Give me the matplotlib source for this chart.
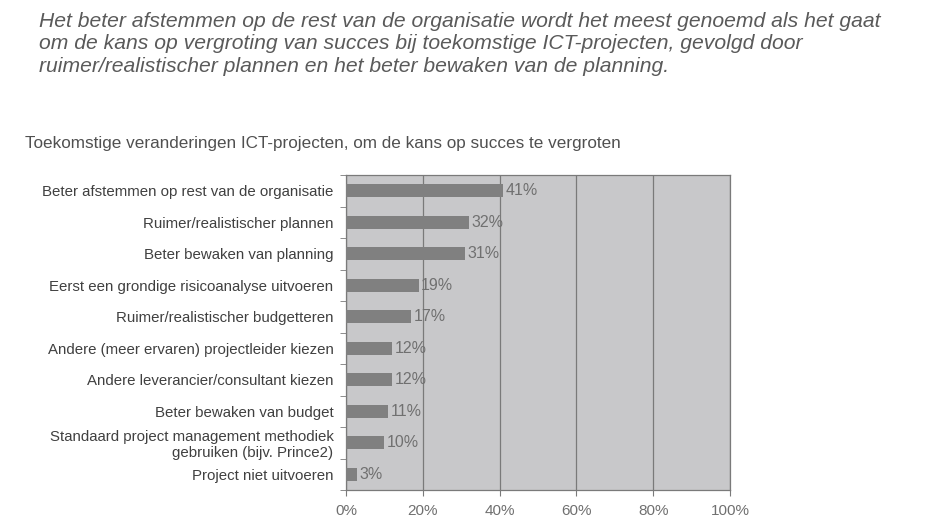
import matplotlib

matplotlib.use("Agg")
import matplotlib.pyplot as plt
import numpy as np

plt.rcParams["font.family"] = ["Liberation Sans", "DejaVu Sans"]

categories = [
    "Beter afstemmen op rest van de organisatie",
    "Ruimer/realistischer plannen",
    "Beter bewaken van planning",
    "Eerst een grondige risicoanalyse uitvoeren",
    "Ruimer/realistischer budgetteren",
    "Andere (meer ervaren) projectleider kiezen",
    "Andere leverancier/consultant kiezen",
    "Beter bewaken van budget",
    "Standaard project management methodiek\ngebruiken (bijv. Prince2)",
    "Project niet uitvoeren",
]
values = [41, 32, 31, 19, 17, 12, 12, 11, 10, 3]
xticks = [0, 20, 40, 60, 80, 100]

HEADLINE = ("Het beter afstemmen op de rest van de organisatie wordt het meest genoemd als het gaat\n"
            "om de kans op vergroting van succes bij toekomstige ICT-projecten, gevolgd door\n"
            "ruimer/realistischer plannen en het beter bewaken van de planning.")
SUBTITLE = "Toekomstige veranderingen ICT-projecten, om de kans op succes te vergroten"

BAR = "#808080"
PLOT_BG = "#c8c8ca"
GRID = "#7a7a7a"

fig = plt.figure(figsize=(9.29, 5.26), dpi=100)
fig.patch.set_facecolor("white")
ax = fig.add_axes([0.3724, 0.0684, 0.4134, 0.5989])
ax.set_facecolor(PLOT_BG)

y = np.arange(len(categories))
bars = ax.barh(y, values, height=0.42, color=BAR, zorder=3)
for rect, v in zip(bars, values):
    ax.text(rect.get_width() + 0.6, rect.get_y() + rect.get_height() / 2, f"{v}%",
            va="center", ha="left", fontsize=11.5, color="#707070", zorder=4)

ax.set_xlim(0, 100)
ax.set_ylim(len(categories) - 0.5, -0.5)
ax.set_xticks(xticks)
ax.set_xticklabels([f"{t}%" for t in xticks], fontsize=11, color="#707070")
ax.set_yticks(y)
ax.set_yticklabels(categories, fontsize=10.8, color="#404040")
ax.tick_params(axis="y", length=0, pad=9)
ax.set_yticks(np.arange(-0.5, len(categories) + 0.5, 1), minor=True)
ax.tick_params(axis="y", which="minor", length=4, color=GRID, direction="out")
ax.tick_params(axis="x", length=4, color=GRID, direction="out", pad=6)
for lab in ax.get_yticklabels():
    lab.set_multialignment("right")

ax.xaxis.grid(True, color=GRID, linewidth=0.9, zorder=1)
ax.set_axisbelow(True)
for s in ax.spines.values():
    s.set_color(GRID)
    s.set_linewidth(0.9)

fig.text(0.042, 0.978, HEADLINE, ha="left", va="top", fontsize=15.2, style="italic",
         color="#5a5a5a", linespacing=1.24)
fig.text(0.027, 0.728, SUBTITLE, ha="left", va="center", fontsize=12.3, color="#505050")

fig.savefig("out.png", dpi=100, facecolor="white")
